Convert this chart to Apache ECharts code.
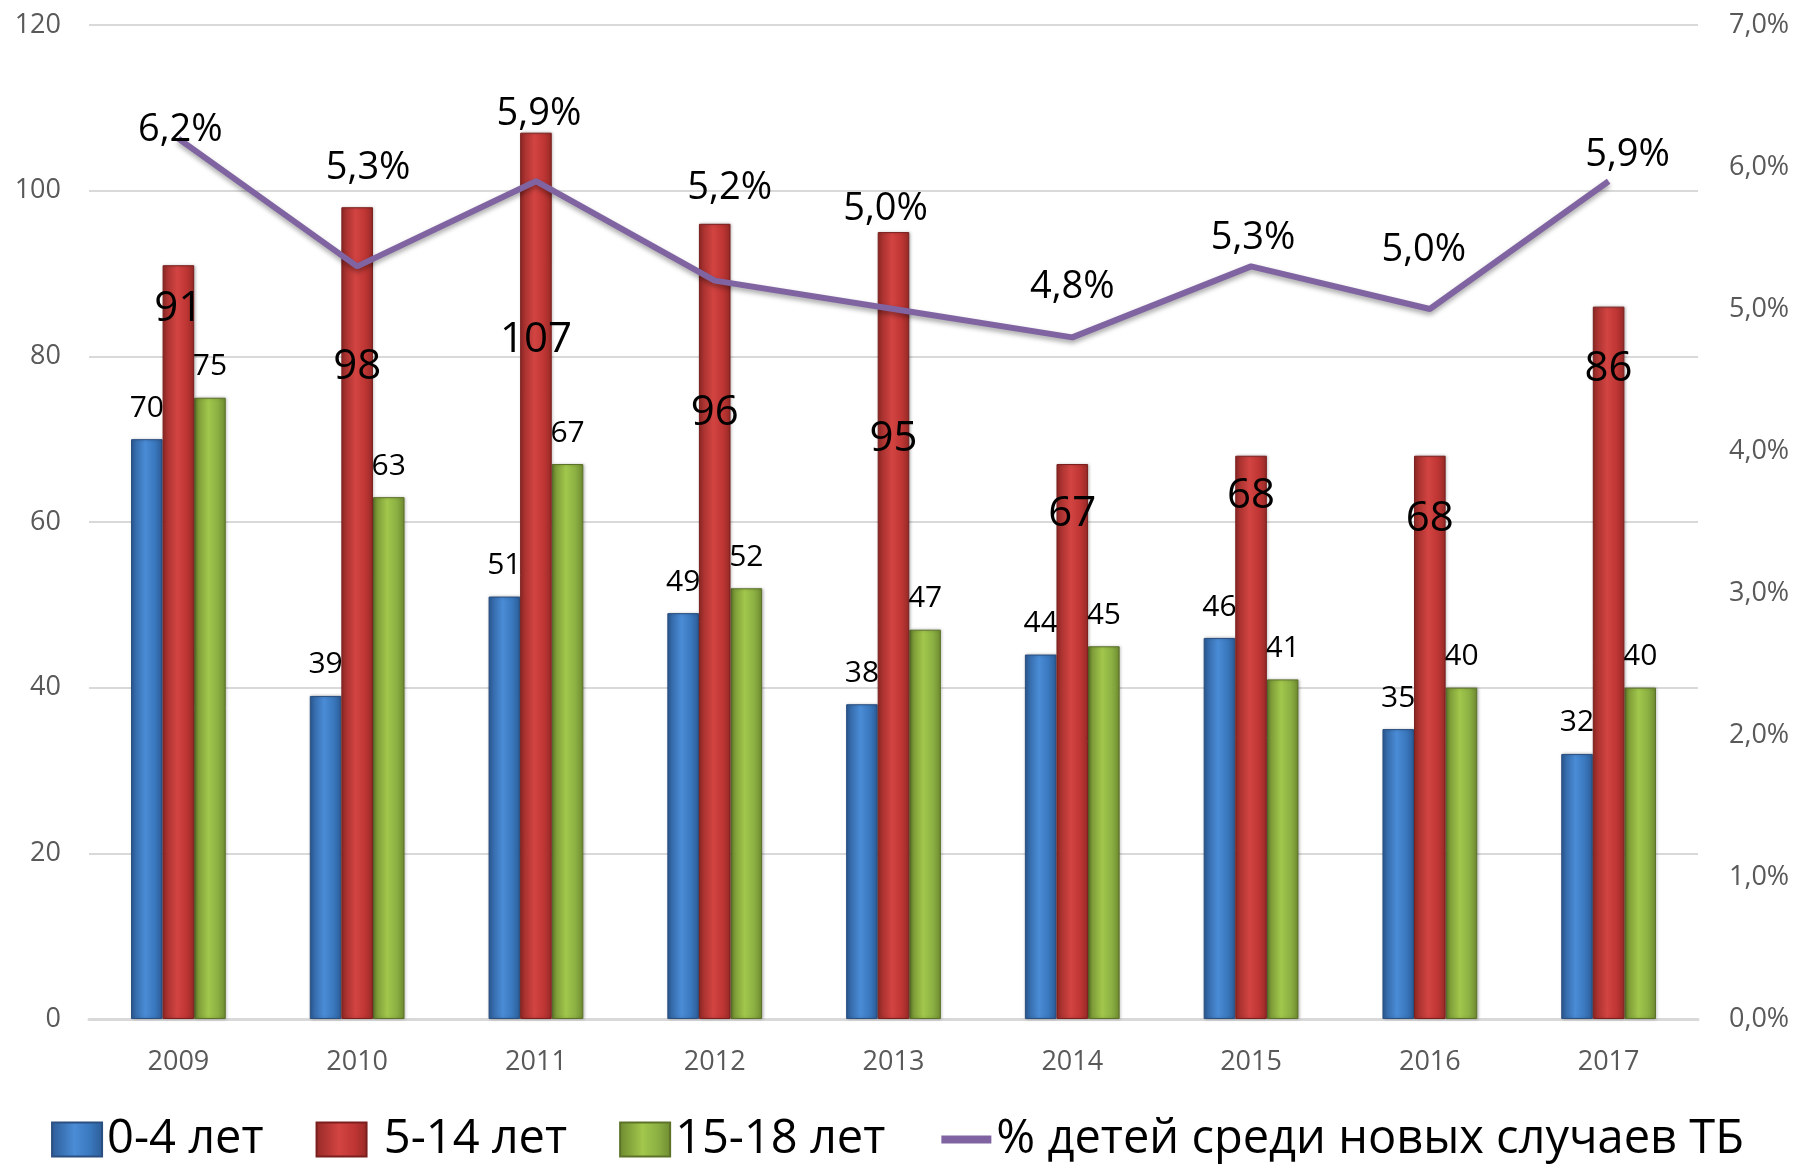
<!DOCTYPE html>
<html>
<head>
<meta charset="utf-8">
<script src="https://cdn.jsdelivr.net/npm/echarts@6/dist/echarts.min.js"></script>
<style>
html,body{margin:0;padding:0;background:#fff;}
#chart{width:1795px;height:1164px;}
</style>
</head>
<body>
<div id="chart"></div>
<script>
const categories = ['2009','2010','2011','2012','2013','2014','2015','2016','2017'];
const age0to4 = [70, 39, 51, 49, 38, 44, 46, 35, 32];
const age5to14 = [91, 98, 107, 96, 95, 67, 68, 68, 86];
const age15to18 = [75, 63, 67, 52, 47, 45, 41, 40, 40];
const childShare = [6.2, 5.3, 5.9, 5.2, 5.0, 4.8, 5.3, 5.0, 5.9];
const seriesNames = ['0-4 лет', ' 5-14 лет', '15-18 лет', '% детей среди новых случаев ТБ'];

// label nudges (px) reproducing the hand-placed labels of the original
const redLabelDy = [18, 134, 181, 163, 181, 24, 14, 37, 36];
const pctLabelDx = [2, 11, 3, 15, -8, 0, 2, -6, 19];
const pctLabelDy = [28, -62, -31, -56, -64, -14, 8, -23, 10];

const FONT = "'Open Sans', 'Noto Sans', sans-serif";

function grad(dark, mid, light) {
  return new echarts.graphic.LinearGradient(0, 0, 1, 0, [
    {offset: 0, color: dark},
    {offset: 0.45, color: light},
    {offset: 0.75, color: mid},
    {offset: 1, color: dark}
  ]);
}
const blueFill = grad('#2C5C97', '#3A78BE', '#4A8CD6');
const redFill = grad('#962A27', '#BF3634', '#D24442');
const greenFill = grad('#6E8A30', '#8CB043', '#A2C74C');

const pctFmt = v => v.toFixed(1).replace('.', ',') + '%';

const chart = echarts.init(document.getElementById('chart'));
chart.setOption({
  animation: false,
  backgroundColor: '#ffffff',
  textStyle: {fontFamily: FONT},
  grid: {left: 89, right: 97, top: 25, bottom: 145},
  legend: {
    bottom: -4,
    left: 'center',
    itemWidth: 50,
    itemHeight: 34,
    itemGap: 52,
    textStyle: {fontSize: 47, color: '#000', fontFamily: FONT},
    data: [
      {name: seriesNames[0], icon: 'rect'},
      {name: seriesNames[1], icon: 'rect'},
      {name: seriesNames[2], icon: 'rect'},
      {name: seriesNames[3], itemStyle: {opacity: 0}, lineStyle: {width: 8, color: '#8064A2'}}
    ]
  },
  xAxis: {
    type: 'category',
    data: categories,
    axisLine: {lineStyle: {color: '#D9D9D9', width: 3}},
    axisTick: {show: false},
    axisLabel: {color: '#595959', fontSize: 27, margin: 30, fontFamily: FONT}
  },
  yAxis: [
    {
      type: 'value', min: 0, max: 120, interval: 20,
      axisLine: {show: false}, axisTick: {show: false},
      splitLine: {lineStyle: {color: '#D9D9D9', width: 2}},
      axisLabel: {color: '#595959', fontSize: 27, margin: 28, fontFamily: FONT}
    },
    {
      type: 'value', min: 0, max: 7, interval: 1,
      axisLine: {show: false}, axisTick: {show: false},
      splitLine: {show: false},
      axisLabel: {color: '#595959', fontSize: 27, margin: 31, fontFamily: FONT,
        formatter: pctFmt}
    }
  ],
  series: [
    {
      name: seriesNames[0], type: 'bar', data: age0to4,
      barGap: '0%', barCategoryGap: '47%',
      itemStyle: {color: blueFill, borderColor: '#2A4F80', borderWidth: 1,
        shadowColor: 'rgba(0,0,0,0.25)', shadowBlur: 3, shadowOffsetX: 1},
      label: {show: true, position: 'top', distance: 16, fontSize: 30, color: '#000', fontFamily: FONT}
    },
    {
      name: seriesNames[1], type: 'bar',
      data: age5to14.map((v, i) => ({value: v, label: {offset: [0, redLabelDy[i]]}})),
      itemStyle: {color: redFill, borderColor: '#7A1F1D', borderWidth: 1,
        shadowColor: 'rgba(0,0,0,0.25)', shadowBlur: 3, shadowOffsetX: 1},
      label: {show: true, position: 'insideTop', distance: 5, fontSize: 42, color: '#000', fontFamily: FONT},
      z: 3
    },
    {
      name: seriesNames[2], type: 'bar', data: age15to18,
      itemStyle: {color: greenFill, borderColor: '#5C7228', borderWidth: 1,
        shadowColor: 'rgba(0,0,0,0.25)', shadowBlur: 3, shadowOffsetX: 1},
      label: {show: true, position: 'top', distance: 16, fontSize: 30, color: '#000', fontFamily: FONT}
    },
    {
      name: seriesNames[3], type: 'line', yAxisIndex: 1,
      data: childShare.map((v, i) => ({value: v, label: {offset: [pctLabelDx[i], pctLabelDy[i]]}})),
      showSymbol: true, symbol: 'circle', symbolSize: 2,
      lineStyle: {color: '#8064A2', width: 6, shadowColor: 'rgba(0,0,0,0.35)', shadowBlur: 5, shadowOffsetY: 3},
      itemStyle: {color: 'rgba(128,100,162,0)', borderWidth: 0},
      label: {show: true, position: 'top', distance: 16, fontSize: 38, color: '#000', fontFamily: FONT,
        formatter: p => pctFmt(p.value)},
      z: 5
    }
  ]
});
</script>
</body>
</html>
